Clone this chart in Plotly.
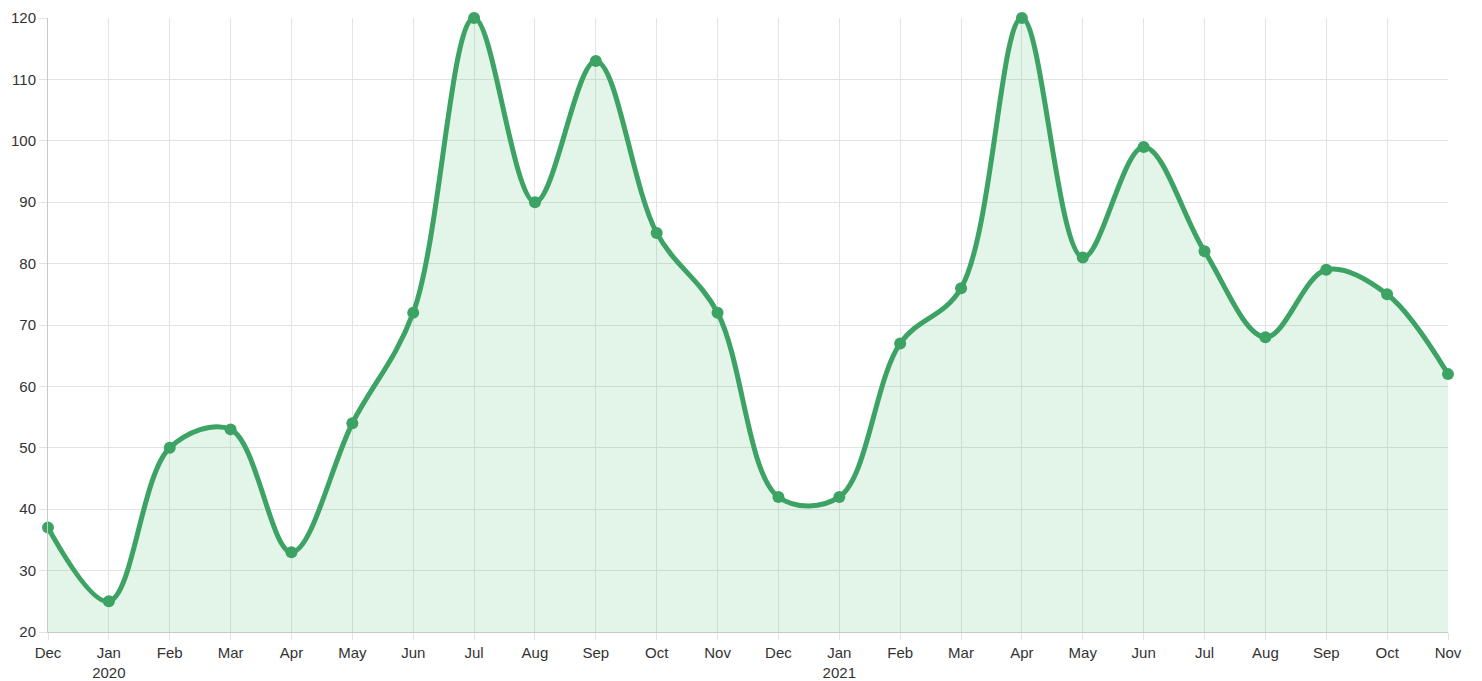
import plotly.graph_objects as go

months = ["Dec", "Jan<br>2020", "Feb", "Mar", "Apr", "May", "Jun", "Jul", "Aug", "Sep", "Oct", "Nov",
          "Dec", "Jan<br>2021", "Feb", "Mar", "Apr", "May", "Jun", "Jul", "Aug", "Sep", "Oct", "Nov"]
values = [37, 25, 50, 53, 33, 54, 72, 120, 90, 113, 85, 72,
          42, 42, 67, 76, 120, 81, 99, 82, 68, 79, 75, 62]
y_ticks = [20, 30, 40, 50, 60, 70, 80, 90, 100, 110, 120]

x = list(range(len(months)))

fig = go.Figure()
fig.add_trace(go.Scatter(
    x=x, y=values,
    mode="lines+markers",
    line=dict(color="rgb(60,163,100)", width=5, shape="spline", smoothing=1),
    marker=dict(size=12, color="rgb(60,163,100)"),
    fill="tozeroy",
    fillcolor="rgba(60,180,100,0.14)",
    cliponaxis=False,
    hoverinfo="x+y",
))

# page body has an 8px default margin; compensate so the plot area lands where the reference has it
fig.update_layout(
    width=1474, height=673,
    margin=dict(l=40, r=34, t=10, b=49),
    paper_bgcolor="white", plot_bgcolor="white",
    showlegend=False,
    font=dict(family="Liberation Sans, Arial, sans-serif", size=15, color="#333"),
)
fig.update_xaxes(
    range=[0, len(months) - 1],
    tickmode="array", tickvals=x, ticktext=months,
    showgrid=True, gridcolor="#e3e3e3", gridwidth=1,
    showline=True, linecolor="#c8c8c8", linewidth=1,
    ticks="outside", ticklen=7, tickcolor="#e3e3e3",
    zeroline=False, automargin=False,
)
fig.update_yaxes(
    range=[20, 120],
    tickmode="array", tickvals=y_ticks,
    showgrid=True, gridcolor="#e3e3e3", gridwidth=1,
    showline=True, linecolor="#c8c8c8", linewidth=1,
    ticks="outside", ticklen=8, tickcolor="#e3e3e3",
    zeroline=False, automargin=False,
)

fig.write_html("out.html")
